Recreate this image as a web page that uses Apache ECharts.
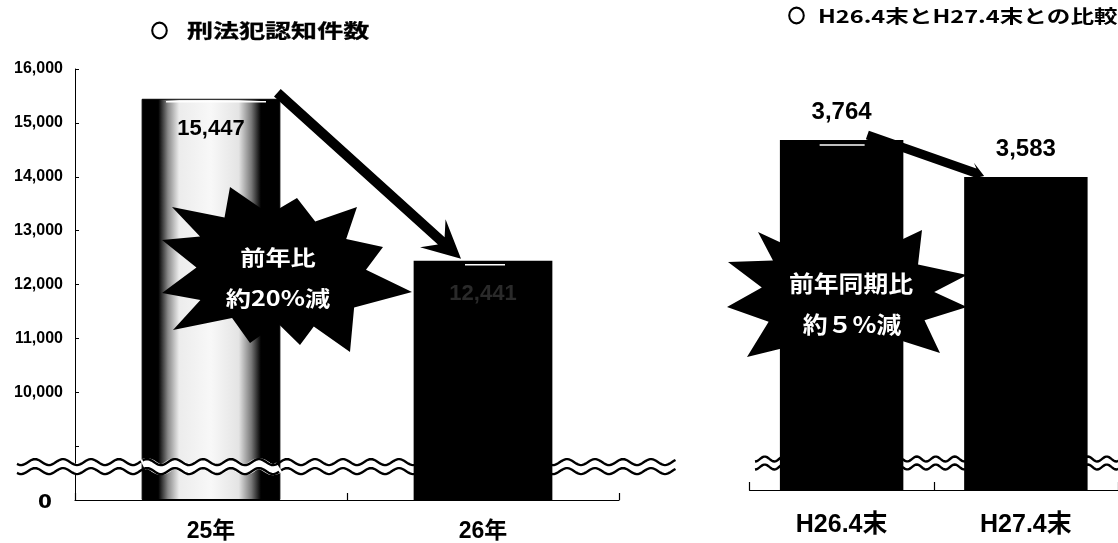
<!DOCTYPE html>
<html>
<head>
<meta charset="utf-8">
<script src="https://cdn.jsdelivr.net/npm/echarts@6/dist/echarts.min.js"></script>
<style>
  html, body { margin: 0; padding: 0; background: #fff; }
  #chart { width: 1118px; height: 543px; }
</style>
</head>
<body>
<div id="chart"></div>
<script>
// 刑法犯認知件数（年間）
const crimeCategories = ['25年', '26年'];
const crimeCounts = [15447, 12441];
const crimeTickLabels = ['0', '', '10,000', '11,000', '12,000', '13,000', '14,000', '15,000', '16,000'];
const crimeAxisBreak = 8000;      // values above the wavy break are shifted down by this amount

// H26.4末とH27.4末との比較
const periodCategories = ['H26.4末', 'H27.4末'];
const periodCounts = [3764, 3583];
const periodAxisBreak = 2050;

const titleMarks = ['○', '○'];
const chartTitles = ['刑法犯認知件数', 'H26.4末とH27.4末との比較'];
const burstTexts = [['前年比', '約20%減'], ['前年同期比', '約５%減']];

// starburst outlines (tips only, notches are derived)
const burstShapes = [
  { c: [285, 270], tips: [[230,187],[297,198],[357,207],[383,247],[412,292],[350,352],[300,345],[250,343],[173,330],[162,293],[162,240],[172,207]] },
  { c: [850, 295], tips: [[728,262],[758,232],[800,236],[838,222],[880,226],[922,230],[967,275],[967,307],[940,353],[890,360],[845,372],[797,373],[747,357],[727,307]] }
];

const fmt = v => v.toLocaleString('en-US');
const CJK = '"Noto Sans CJK JP", sans-serif';
const NUM = '"Liberation Sans", "Noto Sans CJK JP", sans-serif';

const chart = echarts.init(document.getElementById('chart'));

const lightBar = {
  type: 'linear', x: 0, y: 0, x2: 1, y2: 0,
  colorStops: [
    { offset: 0, color: '#000' }, { offset: 0.12, color: '#000' },
    { offset: 0.19, color: '#8a8a8a' }, { offset: 0.27, color: '#ececec' },
    { offset: 0.5, color: '#f8f8f8' }, { offset: 0.7, color: '#e4e4e4' },
    { offset: 0.79, color: '#7a7a7a' }, { offset: 0.86, color: '#000' },
    { offset: 1, color: '#000' }
  ]
};

chart.setOption({
  animation: false,
  backgroundColor: '#fff',
  grid: [
    { left: 75, top: 69, width: 544, height: 431 },
    { left: 749.5, top: 102, width: 378, height: 388 }
  ],
  xAxis: [
    {
      type: 'category', gridIndex: 0, data: crimeCategories,
      axisLine: { lineStyle: { color: '#000', width: 1.2 } },
      axisTick: { show: true, inside: true, length: 7, lineStyle: { color: '#000', width: 1.2 } },
      axisLabel: { color: '#000', fontFamily: NUM, fontWeight: 'bold', fontSize: 23, margin: 20 }
    },
    {
      type: 'category', gridIndex: 1, data: periodCategories,
      axisLine: { lineStyle: { color: '#000', width: 1.2 } },
      axisTick: { show: true, inside: true, length: 8, lineStyle: { color: '#000', width: 1.2 } },
      axisLabel: { color: '#000', fontFamily: NUM, fontWeight: 'bold', fontSize: 25, margin: 23 }
    }
  ],
  yAxis: [
    {
      type: 'value', gridIndex: 0, min: 0, max: 8000, interval: 1000,
      splitLine: { show: false },
      axisLine: { show: true, lineStyle: { color: '#000', width: 1 } },
      axisTick: { show: true, inside: true, length: 4, lineStyle: { color: '#000' } },
      axisLabel: {
        color: '#000', fontFamily: NUM, fontWeight: 'bold', fontSize: 16, margin: 12,
        formatter: v => {
          const t = crimeTickLabels[Math.round(v / 1000)];
          return v === 0 ? '{z|' + t + '}' : t;
        },
        rich: { z: { fontFamily: '"DejaVu Sans", sans-serif', fontWeight: 'bold', fontSize: 20, padding: [6, 11, 0, 0], color: '#000' } }
      }
    },
    { type: 'value', gridIndex: 1, min: 0, max: 1900, show: false, splitLine: { show: false } }
  ],
  series: [
    {
      type: 'bar', xAxisIndex: 0, yAxisIndex: 0, barWidth: '51%', z: 2,
      data: crimeCounts.map((v, i) => ({
        value: v - crimeAxisBreak,
        itemStyle: i === 0 ? { color: lightBar, borderColor: '#000', borderWidth: 1 } : { color: '#000' },
        label: i === 0 ? { color: '#000', distance: 19 } : { color: '#2a2a2a', distance: 22 }
      })),
      label: {
        show: true, position: 'insideTop', fontFamily: NUM, fontWeight: 'bold', fontSize: 22,
        formatter: p => fmt(crimeCounts[p.dataIndex])
      }
    },
    {
      type: 'bar', xAxisIndex: 1, yAxisIndex: 1, barWidth: '67%', z: 2,
      data: periodCounts.map(v => v - periodAxisBreak),
      itemStyle: { color: '#000' },
      label: {
        show: true, position: 'top', distance: 16, color: '#000',
        fontFamily: NUM, fontWeight: 'bold', fontSize: 24,
        formatter: p => fmt(periodCounts[p.dataIndex])
      }
    }
  ]
});

// ---- annotations: axis breaks, arrows, starbursts, titles ----
function wave(x0, x1, yc, amp, period) {
  const pts = [];
  for (let x = x0; x <= x1; x += 1.5) pts.push([x, yc - amp * Math.sin(x / period * 2 * Math.PI)]);
  return pts;
}
function breakMark(x0, x1, yc, amp, period, gap, z) {
  return [
    { type: 'polyline', z, shape: { points: wave(x0, x1, yc, amp, period) }, style: { stroke: '#fff', lineWidth: gap * 2 + 2, fill: null } },
    { type: 'polyline', z, shape: { points: wave(x0, x1, yc - gap, amp, period) }, style: { stroke: '#000', lineWidth: 2.4, fill: null } },
    { type: 'polyline', z, shape: { points: wave(x0, x1, yc + gap, amp, period) }, style: { stroke: '#000', lineWidth: 2.4, fill: null } }
  ];
}
function arrow(x1, y1, x2, y2, w, hl, hw, z) {
  const L = Math.hypot(x2 - x1, y2 - y1), ux = (x2 - x1) / L, uy = (y2 - y1) / L, nx = -uy, ny = ux;
  const bx = x2 - ux * hl, by = y2 - uy * hl;
  const mx = x2 - ux * hl * 0.7, my = y2 - uy * hl * 0.7;
  const h = w / 2;
  return {
    type: 'polygon', z,
    shape: { points: [
      [x1 + nx * h, y1 + ny * h], [mx + nx * h, my + ny * h], [bx + nx * hw, by + ny * hw], [x2, y2],
      [bx - nx * hw, by - ny * hw], [mx - nx * h, my - ny * h], [x1 - nx * h, y1 - ny * h]
    ] },
    style: { fill: '#000' }
  };
}
function burst(shape, z) {
  const [cx, cy] = shape.c, pts = [];
  const t = shape.tips;
  for (let i = 0; i < t.length; i++) {
    const a = t[i], b = t[(i + 1) % t.length];
    pts.push(a);
    const mx = (a[0] + b[0]) / 2, my = (a[1] + b[1]) / 2;
    pts.push([cx + (mx - cx) * 0.72, cy + (my - cy) * 0.72]);
  }
  return { type: 'polygon', z, shape: { points: pts }, style: { fill: '#000' } };
}
function text(str, x, y, size, sx, z, color, family, align, strokeW) {
  const style = {
    text: str, x: 0, y: 0, fill: color, fontFamily: family, fontWeight: 'bold', fontSize: size,
    align, verticalAlign: 'middle', textAlign: align, textVerticalAlign: 'middle'
  };
  if (strokeW) { style.stroke = color; style.lineWidth = strokeW; }
  return { type: 'text', z, x, y, scaleX: sx, style };
}
function hline(x0, x1, y, z) {
  return { type: 'line', z, shape: { x1: x0, y1: y, x2: x1, y2: y }, style: { stroke: '#fff', lineWidth: 1.6 } };
}

function buildAnnotations() {
  const px = (g, c, v) => chart.convertToPixel({ gridIndex: g }, [c, v]);
  const els = [];

  // left panel geometry
  const a0 = px(0, 0, crimeCounts[0] - crimeAxisBreak), a1 = px(0, 1, crimeCounts[1] - crimeAxisBreak);
  const bw0 = (a1[0] - a0[0]) * 0.51;
  const zero0 = px(0, 0, 0)[1], step0 = zero0 - px(0, 0, 1000)[1];
  const yb0 = zero0 - step0 * 0.62;
  els.push(...breakMark(17, 676, yb0, 3, 28, 4.5, 1));
  els.push(...breakMark(a0[0] - bw0 / 2 + 1, a0[0] + bw0 / 2 - 1, yb0, 3, 28, 4.5, 3));
  els.push(arrow(a0[0] + bw0 / 2 - 3, a0[1] - 6, a1[0] - 22, a1[1] - 2, 10, 38, 19, 5));
  // highlight strokes near the bar tops
  els.push(hline(a0[0] - 45, a0[0] + 55, a0[1] + 3, 3));
  els.push(hline(a1[0] - 18, a1[0] + 22, a1[1] + 4, 3));

  // right panel geometry
  const b0 = px(1, 0, periodCounts[0] - periodAxisBreak), b1 = px(1, 1, periodCounts[1] - periodAxisBreak);
  const bw1 = (b1[0] - b0[0]) * 0.67;
  const zero1 = px(1, 0, 0)[1];
  els.push(...breakMark(755, 1125, zero1 - 27, 2.5, 19, 4, 1));
  els.push(arrow(b0[0] + bw1 / 2 - 36, b0[1] - 5, b1[0] - bw1 / 2 + 20, b1[1] - 1, 9, 14, 9, 1));
  els.push(hline(b0[0] - 22, b0[0] + 23, b0[1] + 5, 3));

  // starbursts with captions
  els.push(burst(burstShapes[0], 4), burst(burstShapes[1], 4));
  els.push(text(burstTexts[0][0], 278, 257, 21, 1.2, 6, '#fff', CJK, 'center'));
  els.push(text(burstTexts[0][1], 278, 298, 21, 1.2, 6, '#fff', CJK, 'center'));
  els.push(text(burstTexts[1][0], 851, 283, 23, 1.08, 6, '#fff', CJK, 'center'));
  els.push(text(burstTexts[1][1], 852, 324, 23, 1.08, 6, '#fff', CJK, 'center'));

  // panel titles
  els.push(text(titleMarks[0], 151, 31, 17, 1, 6, '#000', CJK, 'left', 1.3));
  els.push(text(chartTitles[0], 187, 31, 19, 1.37, 6, '#000', CJK, 'left', 0.3));
  els.push(text(titleMarks[1], 788, 16, 17, 1, 6, '#000', CJK, 'left', 1.3));
  els.push(text(chartTitles[1], 818, 16, 18, 1.31, 6, '#000', CJK, 'left'));

  chart.setOption({ graphic: { elements: els } });
}
buildAnnotations();
</script>
</body>
</html>
